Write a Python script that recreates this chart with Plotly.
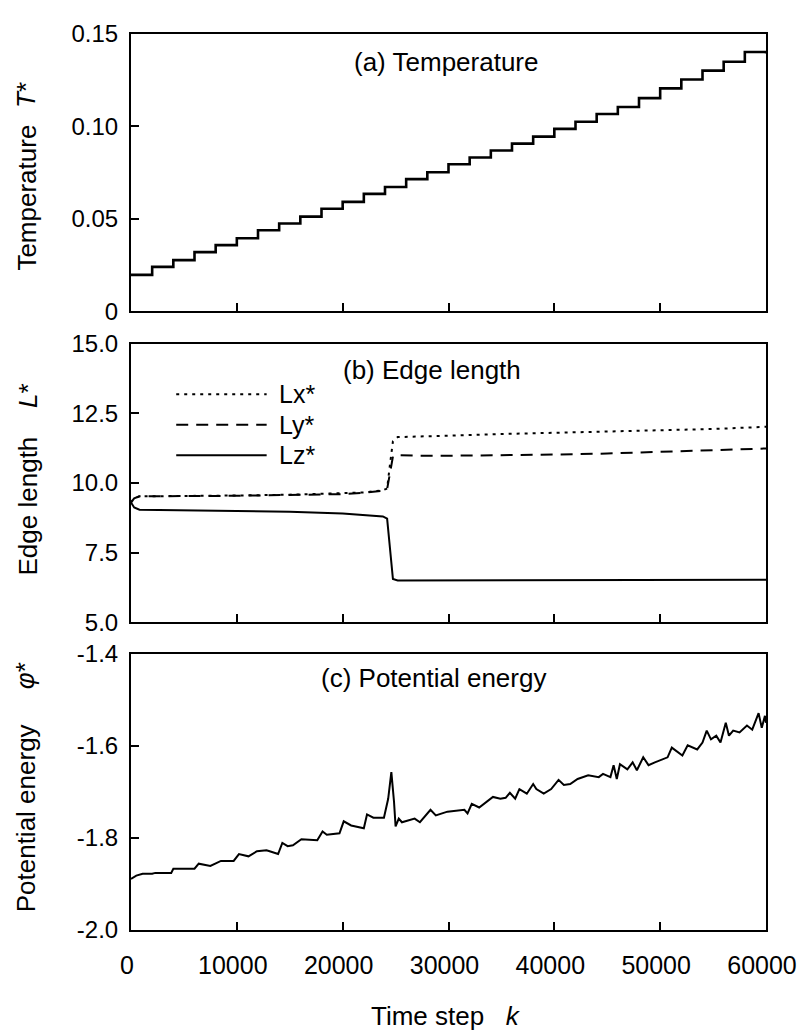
import plotly.graph_objects as go

# ---------------- data ----------------
# (a) Temperature: plateau start steps and plateau values
step_k = [0, 2000, 4000, 6000, 8000, 10000, 12000, 14000, 16000, 18000,
          20000, 22000, 24000, 26000, 28000, 30000, 32000, 34000, 36000, 38000,
          40000, 42000, 44000, 46000, 48000, 50000, 52000, 54000, 56000, 58000, 60000]
temperature = [0.0197, 0.0240, 0.0277, 0.0320, 0.0358, 0.0395, 0.0438, 0.0475, 0.0512, 0.0555,
               0.0592, 0.0635, 0.0672, 0.0715, 0.0752, 0.0795, 0.0832, 0.0870, 0.0907, 0.0945,
               0.0987, 0.1025, 0.1067, 0.1105, 0.1153, 0.1206, 0.1254, 0.1302, 0.1350, 0.1403, 0.1395]

# (b) Edge length
k_edge = [0, 300, 800, 5000, 10000, 15000, 20000, 22000, 23800, 24200, 24450, 24750, 25200,
          27000, 30000, 35000, 40000, 45000, 50000, 55000, 60000]
lx = [9.30, 9.45, 9.52, 9.53, 9.55, 9.58, 9.62, 9.66, 9.74, 9.80, 10.60, 11.50, 11.65,
      11.66, 11.70, 11.76, 11.80, 11.84, 11.88, 11.94, 12.02]
ly = [9.30, 9.45, 9.52, 9.52, 9.54, 9.57, 9.60, 9.65, 9.72, 9.78, 10.30, 10.95, 11.00,
      10.98, 10.98, 10.99, 11.02, 11.06, 11.12, 11.17, 11.24]
lz = [9.30, 9.12, 9.04, 9.02, 9.00, 8.97, 8.90, 8.85, 8.80, 8.72, 7.60, 6.55, 6.50,
      6.50, 6.50, 6.50, 6.50, 6.51, 6.51, 6.52, 6.52]

# (c) Potential energy
k_pe = [0, 500, 1100, 2000, 2300, 3800, 4000, 6000, 6400, 7500, 8500, 9700, 10200, 11100,
        11900, 12800, 13100, 13900, 14300, 14800, 15300, 16100, 17600, 18100, 18500, 19700,
        20100, 20800, 22000, 22300, 22900, 23900, 24300, 24600, 24850, 25000, 25300, 25600,
        26800, 27300, 28300, 28800, 29900, 31500, 31800, 32200, 32900, 33600, 34200, 34900,
        35400, 35800, 36300, 36700, 37400, 38000, 38300, 39000, 39700, 40400, 40900, 41500,
        42200, 43200, 44200, 44600, 45300, 45600, 45900, 46200, 46900, 47400, 47800, 48400,
        48900, 49500, 50700, 51100, 51700, 52100, 52600, 53500, 54000, 54400, 54800, 55300,
        55700, 56200, 56500, 56900, 57500, 58200, 58700, 59300, 59600, 59900, 60000]
phi = [-1.889, -1.882, -1.878, -1.878, -1.876, -1.876, -1.867, -1.867, -1.856, -1.861, -1.850,
       -1.850, -1.835, -1.840, -1.829, -1.827, -1.829, -1.835, -1.811, -1.818, -1.816, -1.803,
       -1.805, -1.786, -1.793, -1.790, -1.764, -1.773, -1.779, -1.749, -1.756, -1.756, -1.715,
       -1.657, -1.721, -1.775, -1.758, -1.766, -1.758, -1.766, -1.739, -1.751, -1.743, -1.739,
       -1.747, -1.726, -1.734, -1.721, -1.711, -1.715, -1.713, -1.702, -1.715, -1.694, -1.704,
       -1.683, -1.694, -1.704, -1.694, -1.674, -1.685, -1.683, -1.672, -1.664, -1.668, -1.661,
       -1.668, -1.642, -1.672, -1.640, -1.651, -1.636, -1.653, -1.625, -1.642, -1.636, -1.625,
       -1.604, -1.614, -1.621, -1.599, -1.608, -1.593, -1.567, -1.586, -1.578, -1.593, -1.550,
       -1.578, -1.567, -1.571, -1.556, -1.565, -1.529, -1.561, -1.535, -1.550]

x_ticks = [0, 10000, 20000, 30000, 40000, 50000, 60000]
x_ticktext = ["0", "10000", "20000", "30000", "40000", "50000", "60000"]
t_ticks = [0, 0.05, 0.10, 0.15]
t_ticktext = ["0", "0.05", "0.10", "0.15"]
l_ticks = [5.0, 7.5, 10.0, 12.5, 15.0]
l_ticktext = ["5.0", "7.5", "10.0", "12.5", "15.0"]
p_ticks = [-2.0, -1.8, -1.6, -1.4]
p_ticktext = ["-2.0", "-1.8", "-1.6", "-1.4"]
legend_names = ["Lx*", "Ly*", "Lz*"]

# ---------------- layout helpers ----------------
# The page body has an 8px margin, so the figure is drawn 8px in from the corner.
BODY = 8
W, H = 809 - BODY, 1034 - BODY
PLOT_L, PLOT_R, PLOT_T, PLOT_B = 131, 777, 22, 930   # page pixel coords of plot region
L = PLOT_L - BODY
T = PLOT_T - BODY
R = W - (PLOT_R - BODY)
B = H - (PLOT_B - BODY)
PW, PH = PLOT_R - PLOT_L, PLOT_B - PLOT_T
FONT = "Liberation Sans, Arial, sans-serif"


def px(xp):
    return (xp - PLOT_L) / PW


def py(yp):
    return (PLOT_B - yp) / PH


fig = go.Figure()
fig.add_trace(go.Scatter(x=step_k, y=temperature, mode="lines",
                         line=dict(color="black", width=2.6, shape="hv"),
                         xaxis="x", yaxis="y", showlegend=False))
fig.add_trace(go.Scatter(x=k_edge, y=lx, mode="lines", name=legend_names[0],
                         line=dict(color="black", width=2, dash="3px,5px"),
                         xaxis="x2", yaxis="y2", showlegend=False))
fig.add_trace(go.Scatter(x=k_edge, y=ly, mode="lines", name=legend_names[1],
                         line=dict(color="black", width=2, dash="12px,8px"),
                         xaxis="x2", yaxis="y2", showlegend=False))
fig.add_trace(go.Scatter(x=k_edge, y=lz, mode="lines", name=legend_names[2],
                         line=dict(color="black", width=2),
                         xaxis="x2", yaxis="y2", showlegend=False))
fig.add_trace(go.Scatter(x=k_pe, y=phi, mode="lines",
                         line=dict(color="black", width=2),
                         xaxis="x3", yaxis="y3", showlegend=False))

common = dict(showline=True, linecolor="black", linewidth=2, mirror=True,
              ticks="inside", ticklen=8, tickwidth=1.5, tickcolor="black",
              showgrid=False, zeroline=False)

xa_hidden = dict(common, range=[0, 60000], tickmode="array",
                 tickvals=x_ticks[1:-1], showticklabels=False)
xa_shown = dict(common, range=[0, 60000], tickmode="array",
                tickvals=x_ticks, ticktext=x_ticktext,
                tickfont=dict(family=FONT, size=25, color="black"),
                ticklabelstandoff=12, ticklabelshift=-4,
                ticklabeloverflow="allow")
ya_font = dict(family=FONT, size=24, color="black")

fig.update_layout(
    width=W, height=H,
    margin=dict(l=L, r=R, t=T, b=B),
    paper_bgcolor="white", plot_bgcolor="white",
    font=dict(family=FONT, color="black"),
    xaxis=dict(xa_hidden, domain=[0, 1], anchor="y"),
    xaxis2=dict(xa_hidden, domain=[0, 1], anchor="y2"),
    xaxis3=dict(xa_shown, domain=[0, 1], anchor="y3"),
    yaxis=dict(common, domain=[py(303), 1.0], anchor="x", range=[0, 0.15],
               tickmode="array", tickvals=t_ticks, ticktext=t_ticktext,
               tickfont=ya_font, ticklabelstandoff=6, ticklabeloverflow="allow"),
    yaxis2=dict(common, domain=[py(618), py(336)], anchor="x2", range=[5, 15],
                tickmode="array", tickvals=l_ticks, ticktext=l_ticktext,
                tickfont=ya_font, ticklabelstandoff=6, ticklabeloverflow="allow"),
    yaxis3=dict(common, domain=[0, py(650)], anchor="x3", range=[-2.0, -1.4],
                tickmode="array", tickvals=p_ticks, ticktext=p_ticktext,
                tickfont=ya_font, ticklabelstandoff=6, ticklabeloverflow="allow"),
)

ann = []


def add_text(text, xp, yp, size=26, angle=0, xanchor="center"):
    ann.append(dict(text=text, x=px(xp), y=py(yp), xref="paper", yref="paper",
                    showarrow=False, textangle=angle, xanchor=xanchor, yanchor="middle",
                    font=dict(family=FONT, size=size, color="black")))


# panel titles
add_text("(a) Temperature", 452, 50, size=26)
add_text("(b) Edge length", 437, 362, size=26)
add_text("(c) Potential energy", 439, 675, size=26)

# y-axis titles
add_text("Temperature", 25, 188, angle=-90)
add_text("<i>T</i>*", 24, 84, angle=-90)
add_text("Edge length", 26, 500, angle=-90)
add_text("<i>L</i>*", 26, 388, angle=-90)
add_text("Potential energy", 25, 817, angle=-90)
add_text("<i>φ</i>*", 24, 672, angle=-90)

# x-axis title
add_text("Time step&nbsp;&nbsp;&nbsp;<i>k</i>", 451, 1017)

# legend for panel (b)
legend_y = [387, 418, 449]
legend_dash = ["3px,5px", "12px,8px", "solid"]
shapes = []
for name, yy, dsh in zip(legend_names, legend_y, legend_dash):
    shapes.append(dict(type="line", xref="paper", yref="paper",
                       x0=px(177), x1=px(269), y0=py(yy), y1=py(yy),
                       line=dict(color="black", width=2, dash=dsh)))
    add_text(name, 280, yy, size=25, xanchor="left")

fig.update_layout(annotations=ann, shapes=shapes)
fig.write_html("out.html")
